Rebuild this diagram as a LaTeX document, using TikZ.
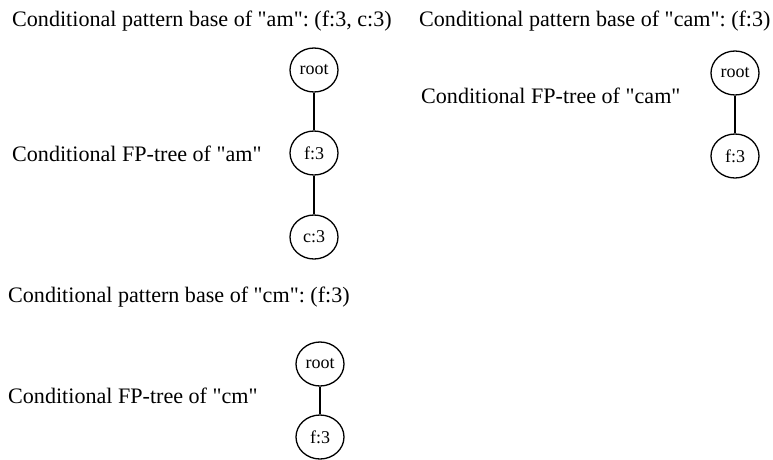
\documentclass[tikz,border=0pt]{standalone}
\usepackage{fontspec}
\setmainfont{Liberation Serif}[Ligatures=TeXOff]
\usetikzlibrary{shapes.geometric}
\frenchspacing
\begin{document}
\begin{tikzpicture}[x=1pt,y=-1pt,
  treenode/.style={ellipse,draw,line width=1.3pt,minimum width=48pt,minimum height=44pt,inner sep=0pt,font=\fontsize{18}{20}\selectfont},
  label/.style={anchor=base west,inner sep=0pt,font=\fontsize{22.1}{26}\selectfont\frenchspacing},
  link/.style={line width=1.3pt}]
\useasboundingbox (0,0) rectangle (773,459);
% am
\node[label] (t1) at (12,26) {Conditional pattern base of "am": (f:3, c:3)};
\node[label] (t2) at (12,161) {Conditional FP-tree of "am"};
\node[treenode] (ar) at (314,70) {root};
\node[treenode] (af) at (314,153) {f:3};
\node[treenode] (ac) at (314,237) {c:3};
\draw[link] (ar) -- (af);
\draw[link] (af) -- (ac);
% cam
\node[label] (t3) at (419,26) {Conditional pattern base of "cam": (f:3)};
\node[label] (t4) at (421,103) {Conditional FP-tree of "cam"};
\node[treenode] (cr) at (735,73) {root};
\node[treenode] (cf) at (735,156) {f:3};
\draw[link] (cr) -- (cf);
% cm
\node[label] (t5) at (8,302) {Conditional pattern base of "cm": (f:3)};
\node[label] (t6) at (8,403) {Conditional FP-tree of "cm"};
\node[treenode] (mr) at (320,364) {root};
\node[treenode] (mf) at (320,437) {f:3};
\draw[link] (mr) -- (mf);
\end{tikzpicture}
\end{document}
